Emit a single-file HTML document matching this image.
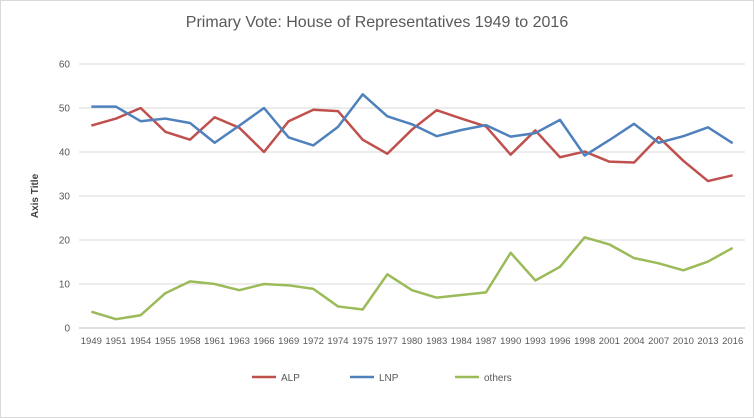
<!DOCTYPE html>
<html><head><meta charset="utf-8"><style>
html,body{margin:0;padding:0;background:#fff;}
svg{display:block;font-family:"Liberation Sans",sans-serif;}
</style></head><body>
<svg id="chart" width="754" height="418" viewBox="0 0 754 418">
<rect x="0.5" y="0.5" width="753" height="417" fill="#fff" stroke="#d9d9d9"/>
<text x="377" y="27" text-anchor="middle" font-size="16" fill="#595959">Primary Vote: House of Representatives 1949 to 2016</text>
<text transform="translate(38,196) rotate(-90)" text-anchor="middle" font-size="10" font-weight="bold" fill="#404040">Axis Title</text>
<g id="grid"></g><g id="series"></g><g id="legend"></g>
</svg>
<script>
const categories=["1949","1951","1954","1955","1958","1961","1963","1966","1969","1972","1974","1975","1977","1980","1983","1984","1987","1990","1993","1996","1998","2001","2004","2007","2010","2013","2016"];
const alp=[46.0,47.6,50.0,44.6,42.8,47.9,45.5,40.0,47.0,49.6,49.3,42.8,39.6,45.1,49.5,47.6,45.8,39.4,44.9,38.8,40.1,37.8,37.6,43.4,38.0,33.4,34.7];
const lnp=[50.3,50.3,47.0,47.6,46.6,42.1,46.0,50.0,43.3,41.5,45.7,53.1,48.1,46.3,43.6,45.0,46.1,43.5,44.3,47.3,39.2,42.7,46.4,42.1,43.6,45.6,42.0];
const others=[3.7,2.0,2.9,7.9,10.6,10.0,8.6,10.0,9.7,8.9,4.9,4.2,12.2,8.6,6.9,7.5,8.1,17.1,10.8,13.9,20.6,19.0,15.9,14.7,13.1,15.1,18.2];
const yTicks=[0,10,20,30,40,50,60];
const seriesNames=["ALP","LNP","others"];
const NS="http://www.w3.org/2000/svg";
const L=79,R=745,T=64,B=328,yMax=60;
const step=(R-L)/categories.length;
const xs=i=>L+step*(i+0.5);
const ys=v=>B-(v/yMax)*(B-T);
function mk(tag,at,parent){const e=document.createElementNS(NS,tag);for(const k in at)e.setAttribute(k,at[k]);parent.appendChild(e);return e;}
const grid=document.getElementById('grid');
yTicks.forEach(t=>{
  const ln=mk('line',{x1:L,x2:R,y1:ys(t),y2:ys(t),stroke:t===0?'#bfbfbf':'#d9d9d9','stroke-width':1},grid);
  
  
  const tx=mk('text',{x:L-9,y:ys(t)+3.5,'text-anchor':'end','font-size':10,fill:'#595959'},grid);
  tx.textContent=t;
  
  
});
categories.forEach((c,i)=>{
  const tx=mk('text',{x:xs(i),y:B+16,'text-anchor':'middle','font-size':9.5,fill:'#595959'},grid);
  tx.textContent=c;
  
  
});
const data=[alp,lnp,others],colors=["#c0504d","#4f81bd","#9bbb59"];
const sg=document.getElementById('series');
data.forEach((arr,s)=>{
  const p=mk('polyline',{points:arr.map((v,i)=>xs(i)+','+ys(v)).join(' '),fill:'none',stroke:colors[s],'stroke-width':2.5,'stroke-linejoin':'round'},sg);
  
  
});
const lg=document.getElementById('legend');
const lx=[252,350,455];
seriesNames.forEach((n,s)=>{
  const g=mk('g',{},lg);
  
  
  mk('line',{x1:lx[s],x2:lx[s]+24,y1:377,y2:377,stroke:colors[s],'stroke-width':2.5},g);
  const t=mk('text',{x:lx[s]+29,y:381,'font-size':10,fill:'#595959'},g);
  t.textContent=n;
});
</script>
</body></html>
